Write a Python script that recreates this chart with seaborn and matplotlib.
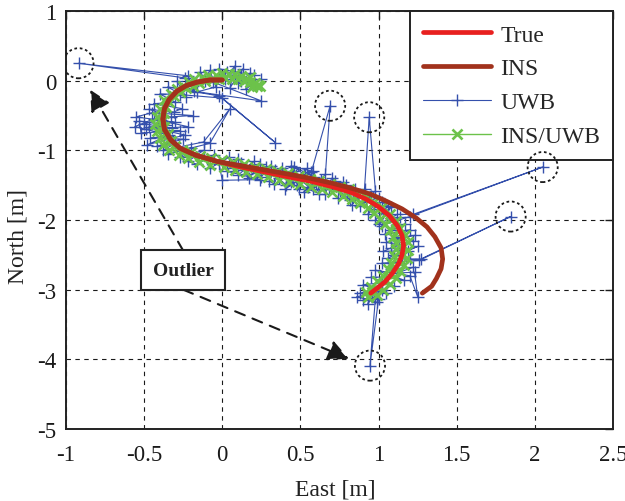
import matplotlib
matplotlib.use('Agg')
import matplotlib.pyplot as plt
import seaborn as sns

# ---------------- data ----------------
true_east = [0.00, -0.08, -0.16, -0.23, -0.29, -0.34, -0.37, -0.38, -0.37, -0.33,
             -0.27, -0.17, -0.03, 0.12, 0.27, 0.42, 0.56, 0.70, 0.82, 0.92,
             1.00, 1.07, 1.12, 1.15, 1.16, 1.15, 1.13, 1.09, 1.04, 0.99, 0.95]
true_north = [0.01, 0.01, -0.02, -0.07, -0.15, -0.27, -0.40, -0.55, -0.70, -0.85,
              -0.97, -1.07, -1.16, -1.24, -1.31, -1.38, -1.44, -1.52, -1.60, -1.70,
              -1.81, -1.94, -2.08, -2.22, -2.37, -2.50, -2.62, -2.76, -2.89, -2.98, -3.05]

ins_east = [0.00, -0.08, -0.16, -0.23, -0.29, -0.34, -0.37, -0.38, -0.37, -0.33,
            -0.27, -0.17, -0.03, 0.12, 0.27, 0.42, 0.56, 0.70, 0.82, 0.95,
            1.05, 1.15, 1.24, 1.31, 1.36, 1.40, 1.41, 1.40, 1.37, 1.34, 1.28]
ins_north = [0.01, 0.01, -0.02, -0.07, -0.15, -0.27, -0.40, -0.55, -0.70, -0.85,
             -0.97, -1.07, -1.16, -1.22, -1.28, -1.34, -1.40, -1.47, -1.54, -1.63,
             -1.73, -1.84, -1.97, -2.10, -2.24, -2.40, -2.56, -2.70, -2.84, -2.95, -3.05]

uwb_east = [0.21, 0.25, 0.15, 0.18, 0.10, 0.13, 0.05, 0.08, 0.02, -0.02,
            0.20, 0.12, 0.03, -0.06, 0.25, -0.16, -0.04, -0.08, -0.11, -0.14,
            -0.19, -0.22, -0.92, -0.24, -0.18, -0.29, -0.23, -0.35, -0.02, 0.34,
            0.00, -0.27, -0.40, -0.30, -0.44, -0.26, -0.31, -0.47, -0.33, -0.19,
            -0.45, -0.55, -0.30, -0.41, -0.50, -0.32, -0.47, -0.40, -0.27, -0.52,
            -0.53, -0.36, -0.49, -0.22, -0.44, -0.56, -0.34, -0.48, -0.24, -0.40,
            -0.35, -0.46, -0.25, -0.42, -0.30, -0.38, -0.12, 0.05, -0.08, -0.35,
            -0.20, -0.27, -0.12, -0.22, -0.16, -0.05, -0.10, -0.08, 0.04, -0.02,
            0.00, 0.24, 0.03, 0.10, 0.07, 0.12, 0.16, 0.10, 0.20, 0.14,
            0.17, 0.24, 0.28, 0.22, 0.25, 0.31, 0.34, 0.30, 0.33, 0.38,
            0.40, 0.36, 0.41, 0.45, 0.47, 0.44, 0.49, 0.53, 0.50, 0.55,
            0.52, 0.60, 0.46, 0.58, 0.40, 0.54, 0.62, 0.48, 0.44, 0.59,
            0.57, 0.69, 0.66, 0.58, 0.63, 0.61, 0.66, 0.70, 0.72, 0.68,
            0.74, 0.77, 0.79, 0.75, 0.82, 0.80, 0.85, 0.87, 0.83, 0.91,
            0.94, 0.98, 0.88, 0.95, 0.92, 1.00, 0.93, 0.97, 1.02, 1.06,
            0.98, 1.03, 1.08, 1.00, 1.12, 1.22, 2.05, 1.20, 1.02, 1.14,
            1.08, 1.17, 1.04, 1.20, 1.10, 1.23, 1.05, 1.13, 1.22, 1.08,
            1.03, 1.19, 1.25, 1.10, 1.06, 1.20, 1.27, 1.845, 1.26, 1.02,
            1.15, 1.08, 1.22, 1.12, 1.23, 1.25, 1.20, 0.98, 1.16, 1.05,
            0.95, 1.10, 1.02, 0.90, 1.05, 0.97, 0.88, 1.00, 0.945, 0.98,
            0.90, 1.02, 0.93, 0.96, 0.86, 0.99]
uwb_north = [-0.05, 0.03, -0.12, 0.11, -0.04, 0.17, -0.10, 0.21, 0.03, 0.17,
             0.08, -0.01, 0.12, -0.02, -0.29, -0.16, -0.09, 0.15, 0.00, 0.13,
             -0.08, 0.07, 0.25, 0.04, -0.15, -0.01, -0.24, -0.09, -0.22, -0.89,
             -0.25, -0.20, -0.19, -0.31, -0.33, -0.40, -0.45, -0.41, -0.52, -0.50,
             -0.46, -0.52, -0.60, -0.56, -0.62, -0.68, -0.66, -0.72, -0.72, -0.75,
             -0.58, -0.64, -0.70, -0.66, -0.55, -0.66, -0.78, -0.92, -0.78, -0.70,
             -0.80, -0.82, -0.84, -0.94, -0.90, -1.00, -0.88, -0.40, -0.90, -1.05,
             -0.96, -1.10, -1.00, -1.16, -1.20, -1.06, -1.12, -1.26, -1.10, -1.20,
             -1.43, -1.42, -1.30, -1.12, -1.26, -1.18, -1.34, -1.36, -1.16, -1.28,
             -1.40, -1.20, -1.24, -1.32, -1.38, -1.22, -1.28, -1.44, -1.48, -1.26,
             -1.32, -1.40, -1.50, -1.30, -1.36, -1.45, -1.55, -1.34, -1.42, -1.52,
             -1.60, -1.48, -1.24, -1.30, -1.56, -1.26, -1.62, -1.50, -1.22, -1.38,
             -1.31, -0.36, -1.34, -1.56, -1.42, -1.48, -1.62, -1.40, -1.44, -1.55,
             -1.68, -1.46, -1.50, -1.58, -1.72, -1.62, -1.55, -1.66, -1.78, -1.55,
             -0.525, -1.58, -1.80, -1.66, -1.74, -1.68, -1.92, -1.84, -1.74, -1.80,
             -2.00, -1.90, -1.82, -2.06, -1.92, -1.92, -1.24, -1.95, -2.08, -1.96,
             -2.14, -2.06, -2.20, -2.14, -2.26, -2.22, -2.32, -2.36, -2.30, -2.40,
             -2.45, -2.44, -2.38, -2.50, -2.55, -2.56, -2.56, -1.95, -2.58, -2.62,
             -2.62, -2.70, -2.68, -2.76, -2.75, -3.10, -2.80, -2.72, -2.86, -2.82,
             -2.82, -2.95, -2.90, -2.93, -3.05, -3.00, -3.05, -3.13, -4.09, -3.12,
             -3.15, -3.00, -3.20, -3.06, -3.10, -3.18]

fused_east = [0.22, 0.20, 0.23, 0.19, 0.21, 0.24, 0.18, 0.16, 0.18, 0.14,
              0.12, 0.10, 0.08, 0.06, 0.04, 0.02, 0.00, -0.02, -0.04, -0.06,
              -0.09, -0.11, -0.13, -0.15, -0.18, -0.19, -0.21, -0.23, -0.25, -0.27,
              -0.29, -0.31, -0.33, -0.34, -0.37, -0.36, -0.40, -0.37, -0.42, -0.38,
              -0.43, -0.37, -0.42, -0.35, -0.40, -0.33, -0.38, -0.30, -0.34, -0.26,
              -0.28, -0.20, -0.22, -0.14, -0.15, -0.07, -0.08, 0.00, 0.01, 0.07,
              0.08, 0.14, 0.15, 0.21, 0.22, 0.28, 0.29, 0.35, 0.36, 0.42,
              0.43, 0.49, 0.50, 0.56, 0.57, 0.62, 0.64, 0.69, 0.70, 0.75,
              0.77, 0.81, 0.83, 0.87, 0.88, 0.92, 0.93, 0.97, 0.97, 1.02,
              1.01, 1.07, 1.04, 1.11, 1.07, 1.14, 1.09, 1.17, 1.11, 1.19,
              1.11, 1.19, 1.10, 1.18, 1.08, 1.16, 1.06, 1.14, 1.03, 1.11,
              0.99, 1.07, 0.95, 1.03, 0.92, 0.99, 0.93, 0.96]
fused_north = [-0.08, -0.05, -0.06, -0.09, -0.04, -0.07, -0.02, 0.02, 0.05, 0.00,
               0.07, 0.02, 0.09, 0.03, 0.10, 0.04, 0.11, 0.03, 0.08, 0.02,
               0.08, -0.01, 0.05, -0.03, 0.02, -0.07, -0.02, -0.11, -0.08, -0.16,
               -0.12, -0.22, -0.19, -0.30, -0.28, -0.38, -0.40, -0.46, -0.52, -0.57,
               -0.62, -0.66, -0.72, -0.76, -0.82, -0.86, -0.92, -0.94, -1.00, -0.99,
               -1.06, -1.03, -1.11, -1.08, -1.17, -1.11, -1.21, -1.14, -1.24, -1.17,
               -1.28, -1.20, -1.31, -1.24, -1.34, -1.27, -1.38, -1.30, -1.42, -1.33,
               -1.45, -1.37, -1.48, -1.41, -1.52, -1.44, -1.56, -1.48, -1.60, -1.52,
               -1.65, -1.56, -1.70, -1.62, -1.76, -1.67, -1.83, -1.74, -1.90, -1.82,
               -1.98, -1.92, -2.06, -2.02, -2.14, -2.12, -2.24, -2.22, -2.33, -2.32,
               -2.42, -2.43, -2.52, -2.54, -2.62, -2.64, -2.71, -2.73, -2.80, -2.83,
               -2.88, -2.92, -2.96, -3.00, -3.03, -3.07, -3.10, -3.04]

outlier_east = [-0.92, 0.69, 0.94, 2.05, 1.845, 0.945]
outlier_north = [0.25, -0.36, -0.525, -1.24, -1.95, -4.09]

x_ticks = [-1, -0.5, 0, 0.5, 1, 1.5, 2, 2.5]
x_ticklabels = ['-1', '-0.5', '0', '0.5', '1', '1.5', '2', '2.5']
y_ticks = [-5, -4, -3, -2, -1, 0, 1]
y_ticklabels = ['-5', '-4', '-3', '-2', '-1', '0', '1']

# ---------------- style ----------------
sns.set_theme(style='white')
plt.rcParams['font.family'] = ['Liberation Serif', 'DejaVu Serif']
plt.rcParams['axes.unicode_minus'] = False

c_true = '#e8201f'
c_ins = '#a1321c'
c_uwb = '#3550ac'
c_fused = '#6cc24a'

fig = plt.figure(figsize=(6.25, 5.02), dpi=100)
ax = fig.add_axes([0.1056, 0.1434, 0.8752, 0.8327])

sns.lineplot(x=uwb_east, y=uwb_north, sort=False, estimator=None, ax=ax,
             color=c_uwb, lw=0.8, marker='+', markersize=8.5, markeredgewidth=1.0,
             markeredgecolor=c_uwb, label='UWB', zorder=2)
sns.lineplot(x=fused_east, y=fused_north, sort=False, estimator=None, ax=ax,
             color=c_fused, lw=1.0, marker='x', markersize=7, markeredgewidth=1.9,
             markeredgecolor=c_fused, label='INS/UWB', zorder=3)
sns.lineplot(x=true_east, y=true_north, sort=False, estimator=None, ax=ax,
             color=c_true, lw=3.4, label='True', zorder=4)
sns.lineplot(x=ins_east, y=ins_north, sort=False, estimator=None, ax=ax,
             color=c_ins, lw=3.4, label='INS', zorder=5)

ax.scatter(outlier_east, outlier_north, s=470, facecolors='none', edgecolors='k',
           linewidths=1.3, linestyles=(0, (1.5, 1.5)), zorder=11)

ax.set_xlim(-1, 2.5)
ax.set_ylim(-5, 1)
ax.set_xticks(x_ticks)
ax.set_xticklabels(x_ticklabels)
ax.set_yticks(y_ticks)
ax.set_yticklabels(y_ticklabels)
ax.grid(True, color='k', linestyle=(0, (4, 4)), linewidth=0.8)
ax.set_axisbelow(True)
ax.tick_params(direction='in', length=6, width=1, top=True, right=True,
               labelsize=16.5, colors='k')
ax.tick_params(axis='x', pad=11)
ax.tick_params(axis='y', pad=7)
for sp in ax.spines.values():
    sp.set_color('#222222')
    sp.set_linewidth(1.4)

ax.set_xlabel('East [m]', fontsize=17, color='#222222')
ax.set_ylabel('North [m]', fontsize=17, color='#222222')
ax.xaxis.set_label_coords(0.492, -0.118)
ax.yaxis.set_label_coords(-0.069, 0.462)

# annotation
ax.text(-0.25, -2.72, 'Outlier', fontsize=14, fontweight='bold', color='#222222',
        ha='center', va='center', zorder=8,
        bbox=dict(boxstyle='square,pad=0.6', fc='white', ec='#222222', lw=1.5))
for tip, start in [((-0.846, -0.13), (-0.25, -2.44)), ((0.81, -3.99), (-0.25, -3.0))]:
    ax.annotate('', xy=tip, xytext=start, zorder=7,
                arrowprops=dict(arrowstyle='-|>', color='k', lw=1.5,
                                linestyle=(0, (5, 4)), mutation_scale=32,
                                shrinkA=0, shrinkB=0))

handles, labels = ax.get_legend_handles_labels()
order = ['True', 'INS', 'UWB', 'INS/UWB']
hd = dict(zip(labels, handles))
leg = ax.legend([hd[k] for k in order], order, loc='upper right', bbox_to_anchor=(1, 1),
                borderaxespad=0, fontsize=17, frameon=True, fancybox=False,
                edgecolor='#222222', framealpha=1, handlelength=2.85,
                handletextpad=0.4, borderpad=0.55, labelspacing=0.52)
leg.get_frame().set_linewidth(1.4)
leg.set_zorder(10)

fig.savefig('out.png', dpi=100)
